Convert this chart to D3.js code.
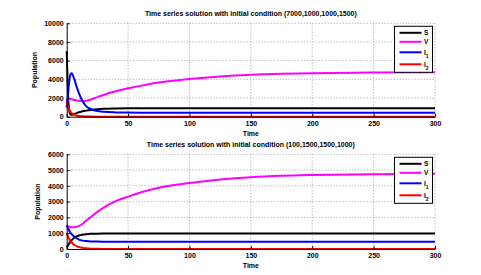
<!DOCTYPE html>
<html>
<head>
<meta charset="utf-8">
<script src="https://cdn.jsdelivr.net/npm/d3@7"></script>
<style>
  body { margin: 0; background: #fff; }
  text { font-family: "Liberation Sans", Arial, sans-serif; font-weight: bold; }
</style>
</head>
<body>
<svg id="chart"></svg>
<script>
// time points (shared by both panels)
var times = [0, 1, 2, 3, 4, 6, 8, 10, 13, 16, 20, 25, 30, 40, 50, 60, 75, 100, 125, 150, 175, 200, 250, 300];

// panel 1: initial condition (7000,1000,1000,1500)
var s1  = [7000, 2500, 700, 250, 200, 280, 380, 470, 580, 650, 720, 790, 840, 880, 900, 905, 910, 910, 910, 910, 910, 910, 910, 910];
var v1  = [1000, 1800, 1920, 1900, 1860, 1790, 1730, 1700, 1690, 1720, 1850, 2100, 2330, 2720, 3040, 3300, 3650, 4030, 4300, 4480, 4590, 4660, 4730, 4760];
var i11 = [1000, 2300, 3700, 4500, 4650, 4100, 3250, 2500, 1650, 1100, 800, 600, 520, 460, 440, 430, 430, 430, 430, 430, 430, 430, 430, 430];
var i21 = [1500, 1100, 800, 560, 400, 220, 130, 80, 40, 20, 10, 5, 0, 0, 0, 0, 0, 0, 0, 0, 0, 0, 0, 0];

// panel 2: initial condition (100,1500,1500,1000)
var s2  = [100, 220, 350, 470, 560, 700, 800, 860, 910, 940, 960, 970, 975, 980, 980, 980, 980, 980, 980, 980, 980, 980, 980, 980];
var v2  = [1480, 1440, 1410, 1390, 1380, 1375, 1400, 1460, 1600, 1800, 2050, 2350, 2620, 3030, 3320, 3580, 3880, 4180, 4400, 4550, 4640, 4690, 4740, 4760];
var i12 = [1500, 1320, 1170, 1040, 940, 790, 680, 590, 530, 500, 480, 470, 465, 460, 460, 460, 460, 460, 460, 460, 460, 460, 460, 460];
var i22 = [1000, 800, 640, 510, 410, 270, 180, 120, 70, 40, 20, 10, 5, 0, 0, 0, 0, 0, 0, 0, 0, 0, 0, 0];

var titles = ["Time series solution with initial condition (7000,1000,1000,1500)",
              "Time series solution with initial condition (100,1500,1500,1000)"];
var yMax = [10000, 6000];
var yStep = [2000, 1000];
var xTicks = [0, 50, 100, 150, 200, 250, 300];
var legendNames = ["S", "V", "I", "I"];
var legendSubs = ["", "", "1", "2"];
var colors = ["#000000", "#ff00ff", "#0000ff", "#ff0000"];

var width = 481, height = 275;
var svg = d3.select("#chart").attr("width", width).attr("height", height);

var panels = [
  {top: 23.3, bottom: 116.7, series: [s1, v1, i11, i21], ylabX: 36.5},
  {top: 154.3, bottom: 249, series: [s2, v2, i12, i22], ylabX: 40}
];
var left = 66.7, right = 435;

panels.forEach(function(p, k) {
  var x = d3.scaleLinear().domain([0, 300]).range([left, right]);
  var y = d3.scaleLinear().domain([0, yMax[k]]).range([p.bottom, p.top]);
  var yTicks = d3.range(0, yMax[k] + 1, yStep[k]);

  var g = svg.append("g");

  // dotted grid
  g.selectAll(".gy").data(yTicks.slice(1)).enter().append("line")
    .attr("x1", left).attr("x2", right)
    .attr("y1", function(d) { return y(d); }).attr("y2", function(d) { return y(d); })
    .attr("stroke", "#a0a0a0").attr("stroke-width", 1).attr("stroke-dasharray", "1,2");
  g.selectAll(".gx").data(xTicks.slice(1)).enter().append("line")
    .attr("y1", p.top).attr("y2", p.bottom)
    .attr("x1", function(d) { return x(d); }).attr("x2", function(d) { return x(d); })
    .attr("stroke", "#a0a0a0").attr("stroke-width", 1).attr("stroke-dasharray", "1,2");

  // series
  var line = d3.line()
    .x(function(d, i) { return x(times[i]); })
    .y(function(d) { return y(d); })
    .curve(d3.curveMonotoneX);
  p.series.forEach(function(vals, j) {
    g.append("path").datum(vals)
      .attr("d", line)
      .attr("fill", "none")
      .attr("stroke", colors[j])
      .attr("stroke-width", 2);
  });

  // axes
  var xa = g.append("g").attr("transform", "translate(0," + p.bottom + ")")
    .call(d3.axisBottom(x).tickValues(xTicks).tickSizeInner(-3).tickSizeOuter(0).tickPadding(4));
  var ya = g.append("g").attr("transform", "translate(" + left + ",0)")
    .call(d3.axisLeft(y).tickValues(yTicks).tickFormat(d3.format("d")).tickSizeInner(-3).tickSizeOuter(0).tickPadding(3));
  [xa, ya].forEach(function(a) {
    a.selectAll("text").style("font-size", "7px").attr("fill", "#000");
    a.select(".domain").attr("stroke", "#000").attr("stroke-width", 1);
    a.selectAll(".tick line").attr("stroke", "#000");
  });

  // labels
  g.append("text").attr("x", (left + right) / 2).attr("y", p.top - 7)
    .attr("text-anchor", "middle").style("font-size", "7px").text(titles[k]);
  g.append("text").attr("x", (left + right) / 2).attr("y", p.bottom + 19)
    .attr("text-anchor", "middle").style("font-size", "7px").text("Time");
  g.append("text")
    .attr("transform", "translate(" + p.ylabX + "," + ((p.top + p.bottom) / 2) + ") rotate(-90)")
    .attr("text-anchor", "middle").style("font-size", "7px").text("Population");

  // legend
  var lx = 394.5, ly = p.top + 3, lw = 38, lh = 46;
  var lg = g.append("g");
  lg.append("rect").attr("x", lx).attr("y", ly).attr("width", lw).attr("height", lh)
    .attr("fill", "#fff").attr("stroke", "#000").attr("stroke-width", 1);
  var rows = [6.5, 15.5, 26, 38];
  legendNames.forEach(function(n, j) {
    lg.append("line").attr("x1", lx + 5).attr("x2", lx + 27)
      .attr("y1", ly + rows[j]).attr("y2", ly + rows[j])
      .attr("stroke", colors[j]).attr("stroke-width", 2);
    var t = lg.append("text").attr("x", lx + 29.5).attr("y", ly + rows[j] + 2.5)
      .style("font-size", "6.5px").text(n);
    if (legendSubs[j]) {
      t.append("tspan").attr("dy", 3).style("font-size", "5px").text(legendSubs[j]);
    }
  });
});
</script>
</body>
</html>
